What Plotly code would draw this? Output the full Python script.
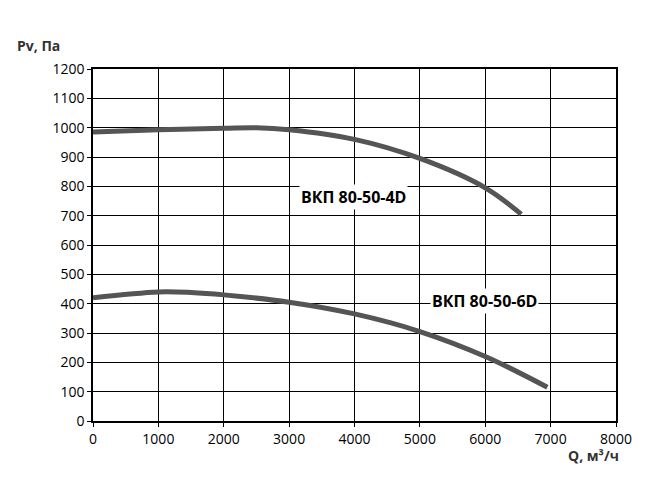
import plotly.graph_objects as go

q4 = [0, 1000, 2000, 2500, 3000, 4000, 5000, 6000, 6550]
p4 = [985, 993, 998, 1000, 993, 960, 895, 795, 705]
q6 = [0, 1000, 1500, 2000, 3000, 4000, 5000, 6000, 6950]
p6 = [420, 440, 438, 430, 405, 365, 305, 220, 115]
labels = ["ВКП 80-50-4D", "ВКП 80-50-6D"]
label_pos = [(3990, 765), (5990, 408)]

fig = go.Figure()
for q, p in [(q4, p4), (q6, p6)]:
    fig.add_trace(go.Scatter(x=q, y=p, mode="lines", line=dict(color="#555555", width=5, shape="spline"), showlegend=False))
for t, (x, y) in zip(labels, label_pos):
    fig.add_annotation(x=x, y=y, text="<b>" + t + "</b>", showarrow=False, bgcolor="white",
                       font=dict(size=16, color="black", family="Open Sans"))
ax = dict(showgrid=True, gridcolor="black", gridwidth=1, zeroline=False, showline=True, linecolor="black",
          linewidth=1.5, mirror=True, ticks="outside", ticklen=4, tickcolor="black", automargin=False,
          tickfont=dict(size=14, color="black", family="Open Sans"))
fig.update_xaxes(range=[0, 8000], dtick=1000, **ax)
fig.update_yaxes(range=[0, 1200], dtick=100, **ax)
fig.add_annotation(xref="paper", yref="paper", x=-0.15, y=1.1, xanchor="left", text="<b>Pv, Па</b>",
                   showarrow=False, font=dict(size=14, color="#333", family="Open Sans"))
fig.add_annotation(xref="paper", yref="paper", x=1.01, y=-0.13, xanchor="right", text="<b>Q, м³/ч</b>",
                   showarrow=False, font=dict(size=14, color="#333", family="Open Sans"))
fig.update_layout(width=654, height=488, margin=dict(l=85, r=46, t=61, b=75, autoexpand=False),
                  plot_bgcolor="white", paper_bgcolor="white")
fig.write_html("out.html")
